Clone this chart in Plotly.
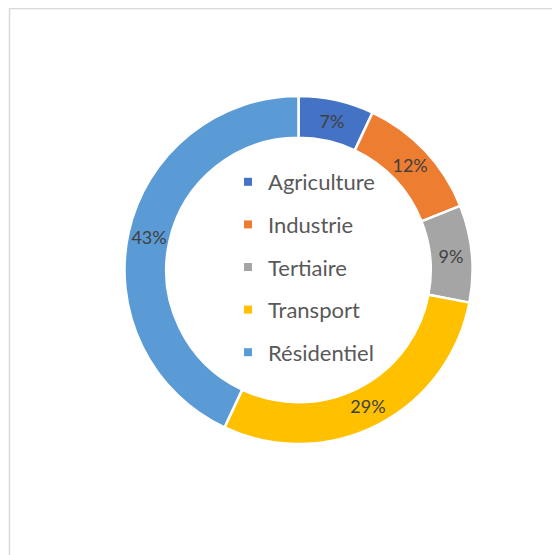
import plotly.graph_objects as go

categories = ["Agriculture", "Industrie", "Tertiaire", "Transport", "Résidentiel"]
values = [7, 12, 9, 29, 43]
colors = ["#4472C4", "#ED7D31", "#A5A5A5", "#FFC000", "#5B9BD5"]

W, H = 560, 555
cx, cy, R = 290.5, 262, 174

fig = go.Figure()
fig.add_trace(go.Pie(
    labels=categories, values=values, sort=False, direction="clockwise",
    hole=0.76, marker=dict(colors=colors, line=dict(color="white", width=2.5)),
    textinfo="percent", texttemplate="%{percent:.0%}",
    textposition="inside", insidetextorientation="horizontal",
    textfont=dict(family="Lato", size=18, color="#404040"),
    showlegend=False, hoverinfo="label+percent",
    domain=dict(x=[(cx - R) / W, (cx + R) / W],
                y=[(H - cy - R) / H, (H - cy + R) / H]),
))

for i, (c, col) in enumerate(zip(categories, colors)):
    fig.add_trace(go.Scatter(
        x=[None], y=[None], mode="markers", name=c,
        legendgroup=f"g{i}",
        marker=dict(symbol="square", size=8, color=col),
    ))

fig.update_layout(
    width=W, height=H, margin=dict(l=0, r=0, t=0, b=0),
    paper_bgcolor="white", plot_bgcolor="white",
    xaxis=dict(visible=False), yaxis=dict(visible=False),
    showlegend=True,
    legend=dict(x=220 / W, y=1 - 153 / H, xanchor="left", yanchor="top",
                font=dict(family="Lato", size=22, color="#595959"),
                tracegroupgap=11, itemwidth=30, bgcolor="rgba(0,0,0,0)"),
    shapes=[dict(type="rect", xref="paper", yref="paper",
                 x0=1.5 / W, x1=1.2, y0=-0.2, y1=1 - 0.5 / H,
                 line=dict(color="#D9D9D9", width=1.5), layer="below")],
)

fig.write_html("out.html")
